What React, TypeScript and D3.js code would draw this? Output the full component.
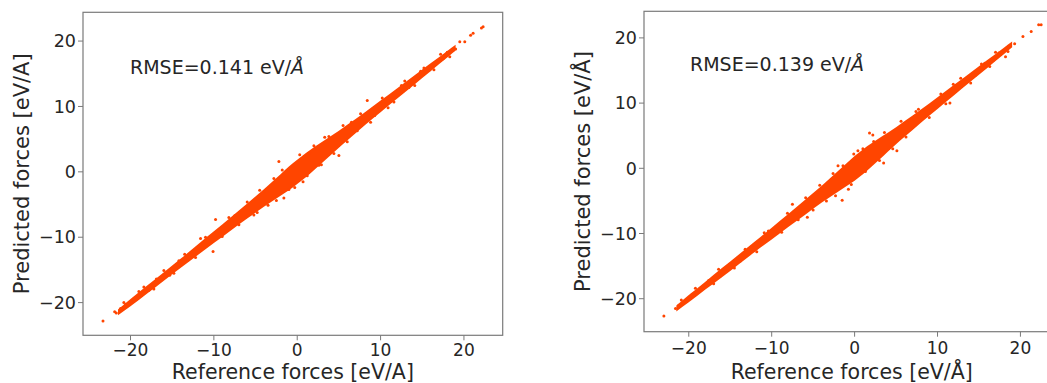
import React from "react";
import * as d3 from "d3";

// ---------- data ----------
const xTicks = [-20, -10, 0, 10, 20];
const yTicks = [-20, -10, 0, 10, 20];

// dense core of the scatter (x, lower edge, upper edge)
const leftBandX = [-21.5, -20, -18, -16, -14, -12, -10, -8, -6, -4, -3, -2, -1, 0, 1, 2, 3, 4, 5, 6, 8, 10, 12, 14, 16, 18, 19];
const leftBandLo = [-21.95, -20.55, -18.6, -16.65, -14.7, -12.8, -10.9, -9.0, -7.15, -5.35, -4.5, -3.65, -2.8, -1.85, -0.85, 0.25, 1.4, 2.55, 3.7, 4.8, 7.0, 9.1, 11.2, 13.3, 15.4, 17.5, 18.55];
const leftBandHi = [-21.05, -19.45, -17.4, -15.35, -13.3, -11.2, -9.1, -7.0, -4.85, -2.65, -1.5, -0.35, 0.8, 1.85, 2.85, 3.75, 4.6, 5.45, 6.3, 7.2, 9.0, 10.9, 12.8, 14.7, 16.6, 18.5, 19.45];

const rightBandX = [-21.5, -20, -18, -16, -14, -12, -10, -8, -6, -4, -3, -2, -1, 0, 1, 2, 3, 4, 5, 6, 8, 10, 12, 14, 16, 18, 19];
const rightBandLo = [-21.95, -20.55, -18.6, -16.7, -14.75, -12.8, -10.9, -9.0, -7.15, -5.3, -4.45, -3.6, -2.75, -1.9, -0.9, 0.2, 1.35, 2.55, 3.7, 4.8, 7.0, 9.1, 11.2, 13.3, 15.4, 17.5, 18.55];
const rightBandHi = [-21.05, -19.45, -17.4, -15.3, -13.25, -11.2, -9.1, -7.0, -4.85, -2.7, -1.55, -0.4, 0.75, 1.9, 2.9, 3.8, 4.65, 5.45, 6.3, 7.2, 9.0, 10.9, 12.8, 14.7, 16.6, 18.5, 19.45];

// individual points (tails, band edges and outliers)
const leftPtsX = [-23.3, -21.9, -21.7, -21.2, -20.6, -19.9, -19.3, -18.4, -17.8, -16.9, -15.3, -14.2, -13.1, -11.6, -10.1, -9.8, -8.7, -7.5, -6.2, -4.8, -3.9, -2.2, -1.6, -1.0, -0.5, 0.7, 1.5, 2.6, 3.8, 5.0, 6.5, 7.2, 8.4, 9.3, 11.6, 12.5, 13.4, 14.8, 15.9, 16.7, 17.5, 18.0, 18.7, 19.0, 19.5, 20.1, 20.8, 21.1, 22.3, 22.1,
  -20.8, -19.0, -17.2, -16.0, -14.8, -13.5, -12.2, -11.0, -9.0, -8.2, -7.0, -6.0, -5.2, -4.5, -3.5, -2.8, -2.5, -1.8, -0.3, 0.3, 1.2, 2.0, 2.9, 3.3, 4.4, 5.5, 6.0, 7.6, 8.8, 10.2, 10.9, 12.9, 14.1, 15.2, 16.4, 17.2, 18.3];
const leftPtsY = [-22.8, -21.4, -21.6, -20.9, -20.3, -19.9, -19.5, -17.6, -18.1, -16.4, -15.8, -13.6, -13.5, -10.2, -12.2, -7.3, -8.2, -6.7, -6.9, -6.2, -3.0, 1.6, -4.0, -2.7, 0.9, -1.5, 2.9, 1.0, 5.4, 2.5, 7.6, 6.3, 10.9, 8.6, 10.7, 13.2, 12.9, 15.4, 15.6, 16.9, 17.3, 18.3, 18.6, 18.8, 19.9, 19.9, 20.9, 21.2, 22.2, 22.0,
  -20.0, -18.3, -17.9, -15.1, -15.5, -12.6, -13.1, -10.0, -9.9, -7.0, -8.1, -4.6, -6.6, -2.8, -5.1, -1.0, -4.4, 0.3, -2.4, 2.6, -0.6, 4.0, 1.1, 5.3, 2.8, 7.1, 4.6, 8.9, 7.6, 11.3, 9.8, 13.9, 13.2, 15.9, 15.6, 18.0, 17.6];

const rightPtsX = [-23.0, -21.6, -21.2, -20.5, -19.6, -18.7, -17.6, -16.2, -15.0, -13.8, -12.4, -10.4, -9.3, -7.5, -5.7, -4.4, -2.0, -1.4, -1.5, -0.75, -0.1, 1.0, 1.8, 2.2, 3.5, 5.1, 6.3, 7.7, 8.5, 11.5, 11.9, 13.2, 14.6, 15.7, 16.8, 17.4, 18.2, 18.6, 19.3, 20.3, 21.3, 22.2, 22.5,
  -20.9, -19.2, -17.0, -16.4, -14.5, -13.2, -11.8, -10.9, -8.8, -8.1, -6.8, -5.9, -5.0, -4.2, -3.4, -2.6, -2.3, -0.4, 0.4, 1.3, 2.3, 3.0, 3.6, 4.6, 5.6, 6.2, 7.4, 9.0, 10.4, 11.0, 12.8, 14.0, 15.3, 16.3, 17.0, 18.5];
const rightPtsY = [-22.65, -21.5, -21.0, -20.4, -19.3, -18.9, -17.2, -16.5, -14.7, -14.2, -12.0, -9.6, -9.9, -5.5, -7.5, -4.0, 0.4, 0.4, -4.9, -3.2, 2.2, 3.0, 5.4, 5.1, 0.8, 2.7, 6.9, 9.05, 7.9, 10.0, 12.9, 13.6, 14.3, 16.1, 16.6, 17.7, 17.1, 18.7, 19.1, 20.2, 21.0, 22.0, 22.0,
  -20.2, -18.4, -17.7, -15.5, -15.3, -12.4, -12.8, -9.9, -9.8, -6.9, -7.9, -4.5, -6.4, -2.6, -5.0, -0.8, -4.2, -2.5, 2.7, -0.5, 4.1, 1.2, 5.5, 3.0, 7.2, 4.8, 8.7, 7.8, 11.4, 9.9, 13.8, 13.1, 16.0, 15.6, 17.8, 17.9];

const rmseLabels = ["RMSE=0.141 eV/", "RMSE=0.139 eV/"];
const xLabels = ["Reference forces [eV/A]", "Reference forces [eV/\u00C5]"];
const yLabels = ["Predicted forces [eV/A]", "Predicted forces [eV/\u00C5]"];

// ---------- layout ----------
const FONT = "'DejaVu Sans', sans-serif";
const COLOR = "#ff4500";
const TXT = "#262626";

type PanelProps = {
  xr: [number, number];
  yr: [number, number];
  xd: [number, number];
  yd: [number, number];
  bandX: number[];
  bandLo: number[];
  bandHi: number[];
  ptsX: number[];
  ptsY: number[];
  rmse: string;
  rmseX: number;
  rmseY: number;
  xLabel: string;
  yLabel: string;
  yLabelX: number;
  xTickBase: number;
  xLabelBase: number;
};

function Panel(p: PanelProps) {
  const x = d3.scaleLinear().domain(p.xd).range(p.xr);
  const y = d3.scaleLinear().domain(p.yd).range(p.yr);
  const band = p.bandX.map((v, i) => ({ x: v, lo: p.bandLo[i], hi: p.bandHi[i] }));
  const area = d3
    .area<{ x: number; lo: number; hi: number }>()
    .x((d) => x(d.x))
    .y0((d) => y(d.lo))
    .y1((d) => y(d.hi))
    .curve(d3.curveMonotoneX);
  const clipId = "clip" + Math.round(p.xr[0]);
  const fmt = (v: number) => (v < 0 ? "\u2212" + Math.abs(v) : String(v));
  const midY = (p.yr[0] + p.yr[1]) / 2;
  const midX = (p.xr[0] + p.xr[1]) / 2;
  return (
    <g>
      <defs>
        <clipPath id={clipId}>
          <rect x={p.xr[0]} y={p.yr[1]} width={p.xr[1] - p.xr[0]} height={p.yr[0] - p.yr[1]} />
        </clipPath>
      </defs>
      <g clipPath={`url(#${clipId})`}>
        <path d={area(band) || ""} fill={COLOR} />
        {p.ptsX.map((v, i) => (
          <circle key={i} cx={x(v)} cy={y(p.ptsY[i])} r={1.5} fill={COLOR} />
        ))}
      </g>
      <rect
        x={p.xr[0]}
        y={p.yr[1]}
        width={p.xr[1] - p.xr[0]}
        height={p.yr[0] - p.yr[1]}
        fill="none"
        stroke="#7a7a7a"
        strokeWidth={1.2}
      />
      {xTicks.map((t) => (
        <g key={"x" + t}>
          <line x1={x(t)} x2={x(t)} y1={p.yr[0]} y2={p.yr[0] + 5} stroke="#7a7a7a" strokeWidth={1} />
          <text x={x(t)} y={p.xTickBase} textAnchor="middle" fontSize={17} fontFamily={FONT} fill={TXT}>
            {fmt(t)}
          </text>
        </g>
      ))}
      {yTicks.map((t) => (
        <g key={"y" + t}>
          <line x1={p.xr[0] - 5} x2={p.xr[0]} y1={y(t)} y2={y(t)} stroke="#7a7a7a" strokeWidth={1} />
          <text x={p.xr[0] - 7} y={y(t) + 6.2} textAnchor="end" fontSize={17.5} fontFamily={FONT} fill={TXT}>
            {fmt(t)}
          </text>
        </g>
      ))}
      <text x={p.rmseX} y={p.rmseY} fontSize={19} fontFamily={FONT} fill={TXT}>
        {p.rmse}
        <tspan fontStyle="italic">{"\u00C5"}</tspan>
      </text>
      <text x={midX} y={p.xLabelBase} textAnchor="middle" fontSize={20.5} fontFamily={FONT} fill={TXT}>
        {p.xLabel}
      </text>
      <text
        transform={`translate(${p.yLabelX},${midY}) rotate(-90)`}
        textAnchor="middle"
        fontSize={21}
        fontFamily={FONT}
        fill={TXT}
      >
        {p.yLabel}
      </text>
    </g>
  );
}

export default function App() {
  return (
    <svg
      width={1047}
      height={383}
      style={{ position: "absolute", left: 0, top: 0, background: "#fff" }}
    >
      <rect x={0} y={0} width={1047} height={383} fill="#fff" />
      <Panel
        xr={[83, 502.7]}
        yr={[335.3, 12.3]}
        xd={[-25.7, 24.65]}
        yd={[-25.0, 24.4]}
        bandX={leftBandX}
        bandLo={leftBandLo}
        bandHi={leftBandHi}
        ptsX={leftPtsX}
        ptsY={leftPtsY}
        rmse={rmseLabels[0]}
        rmseX={130}
        rmseY={74}
        xLabel={xLabels[0]}
        yLabel={yLabels[0]}
        yLabelX={29}
        xTickBase={356}
        xLabelBase={378.5}
      />
      <Panel
        xr={[644, 1059.4]}
        yr={[331.7, 11.3]}
        xd={[-25.4, 24.7]}
        yd={[-25.06, 24.08]}
        bandX={rightBandX}
        bandLo={rightBandLo}
        bandHi={rightBandHi}
        ptsX={rightPtsX}
        ptsY={rightPtsY}
        rmse={rmseLabels[1]}
        rmseX={690}
        rmseY={71}
        xLabel={xLabels[1]}
        yLabel={yLabels[1]}
        yLabelX={590}
        xTickBase={353.5}
        xLabelBase={378.5}
      />
    </svg>
  );
}
